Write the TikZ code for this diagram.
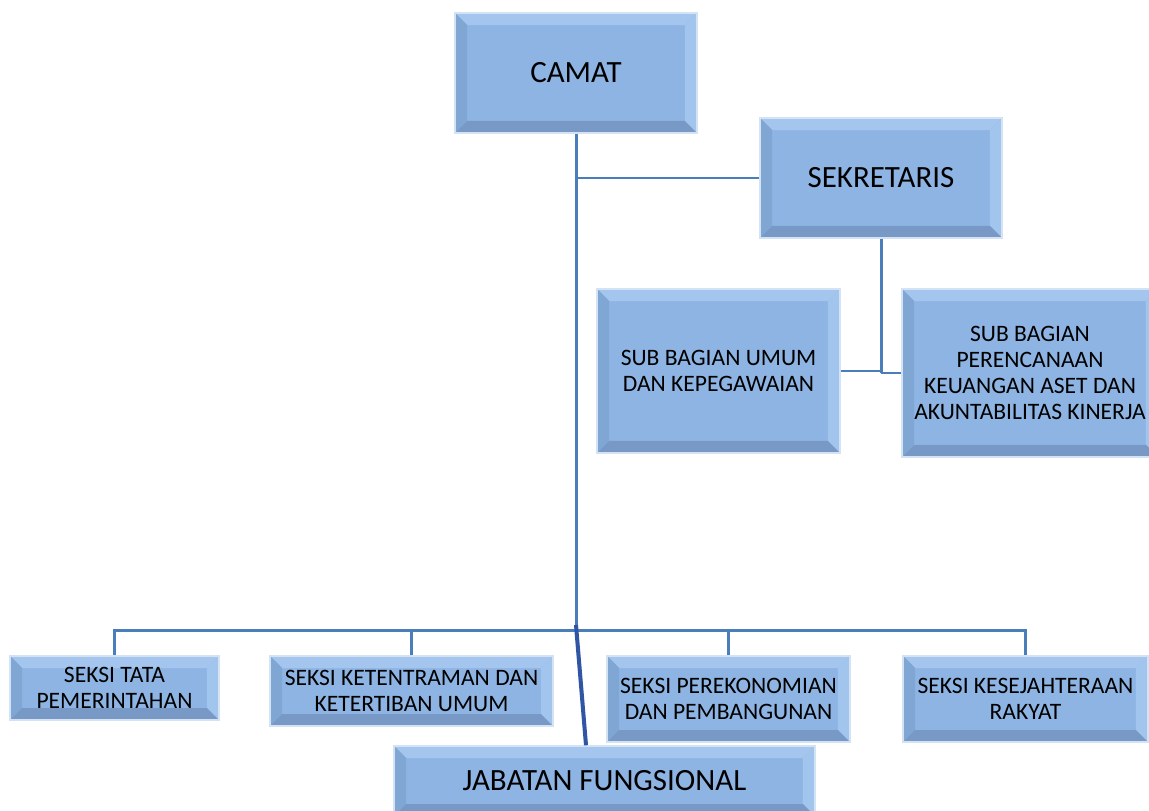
\documentclass[tikz,border=0pt]{standalone}
\usepackage{fontspec}
\setmainfont{Carlito}
\usepackage{tikz}

\definecolor{boxface}{HTML}{8DB4E3}
\definecolor{boxtop}{HTML}{A4C6EE}
\definecolor{boxleft}{HTML}{80A6D4}
\definecolor{boxright}{HTML}{A2C5EE}
\definecolor{boxbottom}{HTML}{7899C6}
\definecolor{boxrim}{HTML}{D3E3F4}
\definecolor{linkblue}{HTML}{4A7EBB}
\definecolor{darkblue}{HTML}{2F55A4}

\newlength{\bev}
\setlength{\bev}{0.24cm}

\tikzset{
	orgbox/.style={draw=boxrim, line width=0.8pt, fill=boxface, align=center, inner sep=0pt,
		path picture={
			\path (path picture bounding box.north west) coordinate (bnw)
				(path picture bounding box.north east) coordinate (bne)
				(path picture bounding box.south east) coordinate (bse)
				(path picture bounding box.south west) coordinate (bsw);
			\path ([shift={(\bev,-\bev)}]bnw) coordinate (inw)
				([shift={(-\bev,-\bev)}]bne) coordinate (ine)
				([shift={(-\bev,\bev)}]bse) coordinate (ise)
				([shift={(\bev,\bev)}]bsw) coordinate (isw);
			\fill[boxtop] (bnw) -- (bne) -- (ine) -- (inw) -- cycle;
			\fill[boxleft] (bnw) -- (inw) -- (isw) -- (bsw) -- cycle;
			\fill[boxright] (bne) -- (bse) -- (ise) -- (ine) -- cycle;
			\fill[boxbottom] (bsw) -- (isw) -- (ise) -- (bse) -- cycle;
		}},
	bigtext/.style={font=\fontsize{17.6}{19.5}\selectfont},
	smalltext/.style={font=\fontsize{13.4}{14.8}\selectfont},
	link/.style={draw=linkblue, line width=1.7pt},
	strong/.style={draw=darkblue, line width=2.3pt}
}

\begin{document}
\begin{tikzpicture}[x=0.02cm,y=-0.02cm]
		\useasboundingbox (0,0) rectangle (1149,811);
		\clip (0,0) rectangle (1149,811);
%		\draw[help lines,step=50] (0,0) grid (1149,811);

		\node[orgbox,bigtext,minimum width=4.84cm,minimum height=2.40cm] (camat) at (576,73) {CAMAT};
		\node[orgbox,bigtext,minimum width=4.84cm,minimum height=2.40cm] (sekretaris) at (881,178) {SEKRETARIS};

		\node[orgbox,smalltext,minimum width=4.86cm,minimum height=3.28cm] (subumum) at (718.5,371)
			{SUB BAGIAN UMUM\\DAN KEPEGAWAIAN};
		\node[orgbox,smalltext,minimum width=5.12cm,minimum height=3.36cm] (subrencana) at (1030,373)
			{SUB BAGIAN\\PERENCANAAN\\KEUANGAN ASET DAN\\AKUNTABILITAS KINERJA};

		\node[orgbox,smalltext,minimum width=4.18cm,minimum height=1.28cm] (seksitata) at (114.5,688)
			{SEKSI TATA\\PEMERINTAHAN};
		\node[orgbox,smalltext,minimum width=5.66cm,minimum height=1.40cm] (seksitentram) at (411.5,691)
			{SEKSI KETENTRAMAN DAN\\KETERTIBAN UMUM};
		\node[orgbox,smalltext,minimum width=4.86cm,minimum height=1.72cm] (seksiekon) at (728.5,699)
			{SEKSI PEREKONOMIAN\\DAN PEMBANGUNAN};
		\node[orgbox,smalltext,minimum width=4.90cm,minimum height=1.72cm] (seksikesra) at (1025.5,699)
			{SEKSI KESEJAHTERAAN\\RAKYAT};

		\node[orgbox,bigtext,minimum width=8.42cm,minimum height=1.40cm] (jabatan) at (604.5,781)
			{JABATAN FUNGSIONAL};

		\path (576,630) coordinate (hub);

		\draw[link] (camat.south) -- (hub);
		\draw[link] (camat.south |- sekretaris.west) -- (sekretaris.west);
		\draw[link] (sekretaris.south) -- (sekretaris.south |- subrencana.west);
		\draw[link] (subumum.east) -- (sekretaris.south |- subumum.east);
		\draw[link] (sekretaris.south |- subrencana.west) -- (subrencana.west);

		\draw[link] (seksitata.north) |- (seksikesra.north |- hub) -- (seksikesra.north);
		\draw[link] (seksitentram.north) -- (seksitentram.north |- hub);
		\draw[link] (seksiekon.north) -- (seksiekon.north |- hub);

		\draw[strong] ([yshift=0.1cm]hub) -- ([xshift=-0.37cm]jabatan.north);

	\end{tikzpicture}
\end{document}
